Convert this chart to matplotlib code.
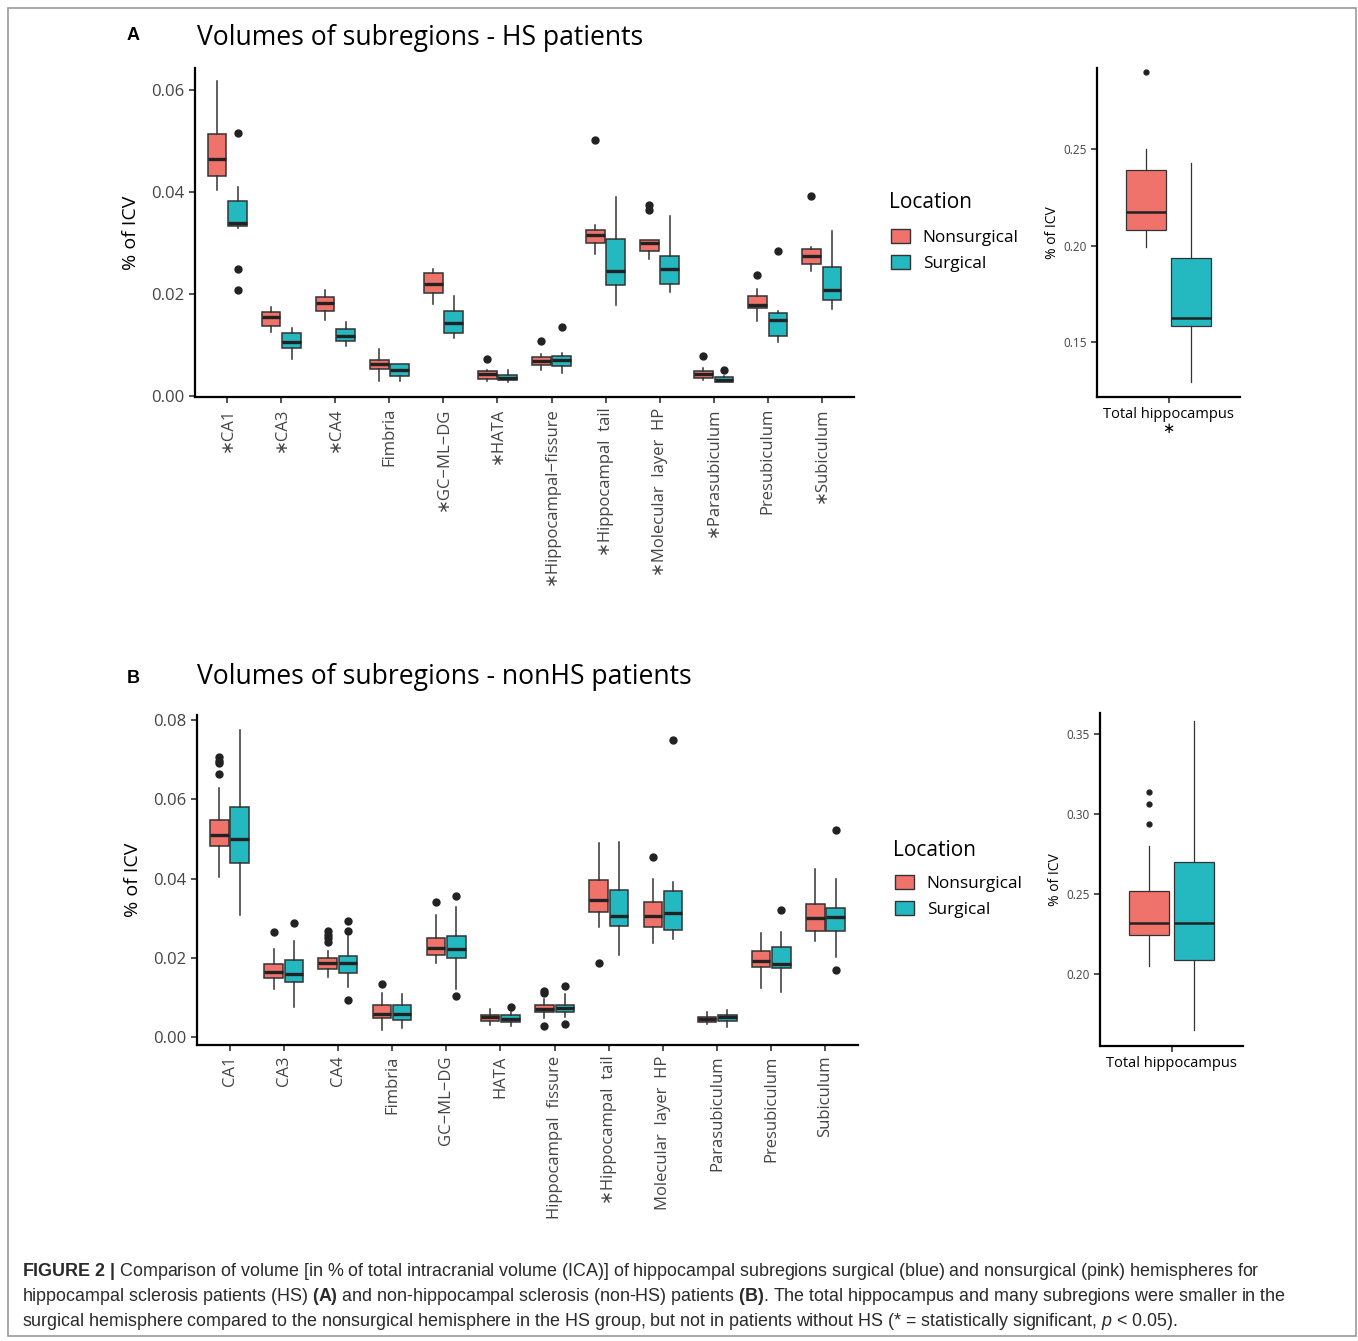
import matplotlib
matplotlib.use('Agg')
import matplotlib.pyplot as plt
from matplotlib.patches import Patch, Rectangle

plt.rcParams['font.family'] = ['Open Sans', 'DejaVu Sans']
plt.rcParams['mathtext.fontset'] = 'custom'
plt.rcParams['mathtext.rm'] = 'Liberation Sans'
plt.rcParams['mathtext.bf'] = 'Liberation Sans:bold'
plt.rcParams['mathtext.it'] = 'Liberation Sans:italic'

## ---------------------------------------------------------------------------
## Data: box stats per subregion
## ---------------------------------------------------------------------------

labels_a = ['\u2217CA1', '\u2217CA3', '\u2217CA4', 'Fimbria', '\u2217GC\u2212ML\u2212DG', '\u2217HATA',
            '\u2217Hippocampal\u2212fissure', '\u2217Hippocampal  tail', '\u2217Molecular  layer  HP',
            '\u2217Parasubiculum', 'Presubiculum', '\u2217Subiculum']
labels_b = ['CA1', 'CA3', 'CA4', 'Fimbria', 'GC\u2212ML\u2212DG', 'HATA', 'Hippocampal  fissure',
            '\u2217Hippocampal  tail', 'Molecular  layer  HP', 'Parasubiculum', 'Presubiculum', 'Subiculum']

# panel A, nonsurgical
a_ns_lo = [0.0404, 0.0125, 0.0148, 0.0029, 0.0180, 0.0029, 0.0050, 0.0279, 0.0269, 0.0032, 0.0147, 0.0246]
a_ns_q1 = [0.0432, 0.0137, 0.0167, 0.0052, 0.0201, 0.0034, 0.0061, 0.0299, 0.0285, 0.0035, 0.0172, 0.0258]
a_ns_med = [0.0464, 0.0154, 0.0182, 0.0063, 0.0219, 0.0043, 0.0069, 0.0316, 0.0299, 0.0043, 0.0179, 0.0275]
a_ns_q3 = [0.0513, 0.0164, 0.0195, 0.0071, 0.0241, 0.0048, 0.0076, 0.0325, 0.0305, 0.0049, 0.0196, 0.0289]
a_ns_hi = [0.0618, 0.0175, 0.0207, 0.0092, 0.0248, 0.0050, 0.0082, 0.0335, 0.0305, 0.0054, 0.0210, 0.0292]
a_ns_out = [[], [], [], [], [], [0.0072], [0.0108], [0.0501], [0.0374, 0.0365], [0.0078], [0.0237], [0.0392]]

# panel A, surgical
a_s_lo = [0.0330, 0.0072, 0.0098, 0.0029, 0.0114, 0.0027, 0.0046, 0.0179, 0.0203, 0.0027, 0.0106, 0.0171]
a_s_q1 = [0.0333, 0.0095, 0.0108, 0.0039, 0.0124, 0.0031, 0.0058, 0.0218, 0.0220, 0.0028, 0.0118, 0.0189]
a_s_med = [0.0340, 0.0105, 0.0118, 0.0051, 0.0144, 0.0036, 0.0071, 0.0246, 0.0248, 0.0032, 0.0148, 0.0208]
a_s_q3 = [0.0383, 0.0124, 0.0131, 0.0063, 0.0167, 0.0041, 0.0078, 0.0307, 0.0275, 0.0037, 0.0162, 0.0252]
a_s_hi = [0.0410, 0.0134, 0.0146, 0.0063, 0.0196, 0.0051, 0.0085, 0.0390, 0.0352, 0.0039, 0.0167, 0.0324]
a_s_out = [[0.0516, 0.0248, 0.0207], [], [], [], [], [], [0.0135], [], [], [0.0051], [0.0284], []]

# panel B, nonsurgical
b_ns_lo = [0.0404, 0.0122, 0.0152, 0.0019, 0.0189, 0.0032, 0.0049, 0.0278, 0.0238, 0.0035, 0.0125, 0.0242]
b_ns_q1 = [0.0482, 0.0151, 0.0172, 0.0048, 0.0209, 0.0042, 0.0064, 0.0317, 0.0278, 0.0038, 0.0177, 0.0269]
b_ns_med = [0.0510, 0.0166, 0.0188, 0.0059, 0.0226, 0.0051, 0.0071, 0.0347, 0.0307, 0.0046, 0.0193, 0.0301]
b_ns_q3 = [0.0549, 0.0184, 0.0200, 0.0083, 0.0250, 0.0057, 0.0083, 0.0398, 0.0341, 0.0051, 0.0219, 0.0337]
b_ns_hi = [0.0630, 0.0223, 0.0219, 0.0113, 0.0308, 0.0071, 0.0097, 0.0490, 0.0400, 0.0063, 0.0263, 0.0424]
b_ns_out = [[0.0707, 0.0697, 0.0692, 0.0665], [0.0265], [0.0268, 0.0259, 0.0250, 0.0241], [0.0136], [0.0341], [],
            [0.0116, 0.0111, 0.0029], [0.0187], [0.0456], [], [], []]

# panel B, surgical
b_s_lo = [0.0310, 0.0076, 0.0126, 0.0023, 0.0121, 0.0029, 0.0051, 0.0208, 0.0249, 0.0027, 0.0115, 0.0202]
b_s_q1 = [0.0440, 0.0139, 0.0162, 0.0045, 0.0200, 0.0039, 0.0064, 0.0280, 0.0272, 0.0042, 0.0174, 0.0268]
b_s_med = [0.0501, 0.0160, 0.0187, 0.0058, 0.0222, 0.0047, 0.0074, 0.0305, 0.0313, 0.0051, 0.0186, 0.0304]
b_s_q3 = [0.0581, 0.0196, 0.0205, 0.0082, 0.0256, 0.0056, 0.0083, 0.0371, 0.0370, 0.0057, 0.0229, 0.0327]
b_s_hi = [0.0776, 0.0243, 0.0256, 0.0109, 0.0328, 0.0063, 0.0109, 0.0493, 0.0392, 0.0068, 0.0266, 0.0400]
b_s_out = [[], [0.0288], [0.0293, 0.0269, 0.0094], [], [0.0356, 0.0104], [0.0078], [0.0131, 0.0034], [], [0.0751],
           [], [0.0322], [0.0523, 0.0170]]

# total hippocampus [lo, q1, med, q3, hi]
tot_a_ns = [0.1990, 0.2081, 0.2175, 0.2391, 0.2500]
tot_a_ns_out = [0.2898]
tot_a_s = [0.1294, 0.1585, 0.1625, 0.1933, 0.2427]
tot_a_s_out = []
tot_b_ns = [0.2048, 0.2244, 0.2319, 0.2517, 0.2798]
tot_b_ns_out = [0.3137, 0.3063, 0.2938]
tot_b_s = [0.1652, 0.2090, 0.2319, 0.2700, 0.3583]
tot_b_s_out = []

col_ns = '#F0736B'
col_s = '#24B8C1'
W, H = 1358, 1341


def make_stats(lo, q1, med, q3, hi, out):
    return [dict(whislo=lo[i], q1=q1[i], med=med[i], q3=q3[i], whishi=hi[i], fliers=out[i])
            for i in range(len(lo))]


def rect(l, t, r, b):
    return [l / W, 1 - b / H, (r - l) / W, (b - t) / H]


def draw_boxes(ax, stats, positions, color, width, msize, lw=1.1):
    ax.bxp(stats, positions=positions, widths=width, patch_artist=True, showcaps=False,
           boxprops=dict(facecolor=color, edgecolor='#333333', linewidth=lw),
           whiskerprops=dict(color='#333333', linewidth=lw),
           medianprops=dict(color='#222222', linewidth=2.4 if msize > 4 else 1.8),
           flierprops=dict(marker='o', markerfacecolor='#222222', markeredgecolor='#222222',
                           markersize=msize))


def style_axis(ax, tick_size):
    for s in ['top', 'right']:
        ax.spines[s].set_visible(False)
    for s in ['left', 'bottom']:
        ax.spines[s].set_linewidth(1.6)
        ax.spines[s].set_color('black')
    ax.tick_params(axis='both', length=4, width=1.2, color='#333333', labelcolor='#444444',
                   labelsize=tick_size)


fig = plt.figure(figsize=(W / 100, H / 100), dpi=100)
fig.patches.append(Rectangle((8 / W, 1 - 1336 / H), 1348 / W, 1328 / H, transform=fig.transFigure,
                             fill=False, edgecolor='#9A9A9A', linewidth=1.2))

pos = list(range(1, 13))
off = 0.1875
bw = 0.34

panels = [
    (rect(195, 68, 854, 397), rect(1097, 68, 1240, 397), labels_a,
     make_stats(a_ns_lo, a_ns_q1, a_ns_med, a_ns_q3, a_ns_hi, a_ns_out),
     make_stats(a_s_lo, a_s_q1, a_s_med, a_s_q3, a_s_hi, a_s_out),
     (-0.0002, 0.0643), [0.00, 0.02, 0.04, 0.06],
     tot_a_ns, tot_a_ns_out, tot_a_s, tot_a_s_out, (0.1215, 0.292), [0.15, 0.20, 0.25],
     'Total hippocampus\n\u2217'),
    (rect(197, 715, 858, 1045), rect(1100, 713, 1243, 1046), labels_b,
     make_stats(b_ns_lo, b_ns_q1, b_ns_med, b_ns_q3, b_ns_hi, b_ns_out),
     make_stats(b_s_lo, b_s_q1, b_s_med, b_s_q3, b_s_hi, b_s_out),
     (-0.0019, 0.0813), [0.00, 0.02, 0.04, 0.06, 0.08],
     tot_b_ns, tot_b_ns_out, tot_b_s, tot_b_s_out, (0.155, 0.363), [0.20, 0.25, 0.30, 0.35],
     'Total hippocampus'),
]

for (r_main, r_tot, labs, st_ns, st_s, ylim, yt,
     t_ns, t_ns_out, t_s, t_s_out, ylim_t, yt_t, tot_lab) in panels:
    ax = fig.add_axes(r_main)
    draw_boxes(ax, st_ns, [p - off for p in pos], col_ns, bw, 5)
    draw_boxes(ax, st_s, [p + off for p in pos], col_s, bw, 5)
    ax.set_xlim(0.4, 12.6)
    ax.set_ylim(*ylim)
    ax.set_yticks(yt)
    ax.set_yticklabels(['%.2f' % v for v in yt])
    ax.set_xticks(pos)
    ax.set_xticklabels(labs, rotation=90, ha='center', va='top')
    style_axis(ax, 12)
    ax.set_ylabel('% of ICV', fontsize=14, color='black', labelpad=8)

    ax2 = fig.add_axes(r_tot)
    s_ns = [dict(whislo=t_ns[0], q1=t_ns[1], med=t_ns[2], q3=t_ns[3], whishi=t_ns[4], fliers=t_ns_out)]
    s_s = [dict(whislo=t_s[0], q1=t_s[1], med=t_s[2], q3=t_s[3], whishi=t_s[4], fliers=t_s_out)]
    draw_boxes(ax2, s_ns, [1 - off], col_ns, bw, 3.5, lw=0.9)
    draw_boxes(ax2, s_s, [1 + off], col_s, bw, 3.5, lw=0.9)
    ax2.set_xlim(0.4, 1.6)
    ax2.set_ylim(*ylim_t)
    ax2.set_yticks(yt_t)
    ax2.set_yticklabels(['%.2f' % v for v in yt_t])
    ax2.set_xticks([1])
    ax2.set_xticklabels([tot_lab], fontsize=10.5, color='black', linespacing=1.0)
    style_axis(ax2, 8.5)
    ax2.tick_params(axis='x', labelsize=10.5, labelcolor='black')
    ax2.set_ylabel('% of ICV', fontsize=10, color='black', labelpad=2)

# panel letters and titles
fig.text(133 / W, 1 - 36 / H, 'A', fontsize=13, fontweight='bold', ha='center', va='center',
         family=['Liberation Sans'])
fig.text(133 / W, 1 - 679 / H, 'B', fontsize=13, fontweight='bold', ha='center', va='center',
         family=['Liberation Sans'])
fig.text(197 / W, 1 - 38 / H, 'Volumes of subregions - HS patients', fontsize=19.1, ha='left', va='center')
fig.text(197 / W, 1 - 677 / H, 'Volumes of subregions - nonHS patients', fontsize=19.1, ha='left', va='center')

# legends: title drawn as text, entries as legend
handles = [Patch(facecolor=col_ns, edgecolor='#333333', label='Nonsurgical'),
           Patch(facecolor=col_s, edgecolor='#333333', label='Surgical')]
for tx, ty, lx, ly in [(889, 203, 891, 229), (893, 851, 895, 875)]:
    fig.text(tx / W, 1 - ty / H, 'Location', fontsize=15, ha='left', va='center')
    fig.legend(handles=handles, loc='upper left', bbox_to_anchor=(lx / W, 1 - ly / H),
               frameon=False, fontsize=12.4, borderpad=0, borderaxespad=0,
               handlelength=1.1, handleheight=0.9, handletextpad=0.75, labelspacing=0.5)

# caption
cap = [
    r'$\mathbf{FIGURE\ 2\ |}$ Comparison of volume [in % of total intracranial volume (ICA)] of hippocampal '
    r'subregions surgical (blue) and nonsurgical (pink) hemispheres for',
    r'hippocampal sclerosis patients (HS) $\mathbf{(A)}$ and non-hippocampal sclerosis (non-HS) patients '
    r'$\mathbf{(B)}$. The total hippocampus and many subregions were smaller in the',
    r'surgical hemisphere compared to the nonsurgical hemisphere in the HS group, but not in patients without HS '
    r'(* = statistically significant, $\mathit{p}$ < 0.05).',
]
for i, line in enumerate(cap):
    fig.text(22 / W, 1 - (1271 + 25.5 * i) / H, line, fontsize=12.9, ha='left', va='center',
             family=['Liberation Sans'], color='#2A2A2A')

fig.savefig('out.png', dpi=100)
